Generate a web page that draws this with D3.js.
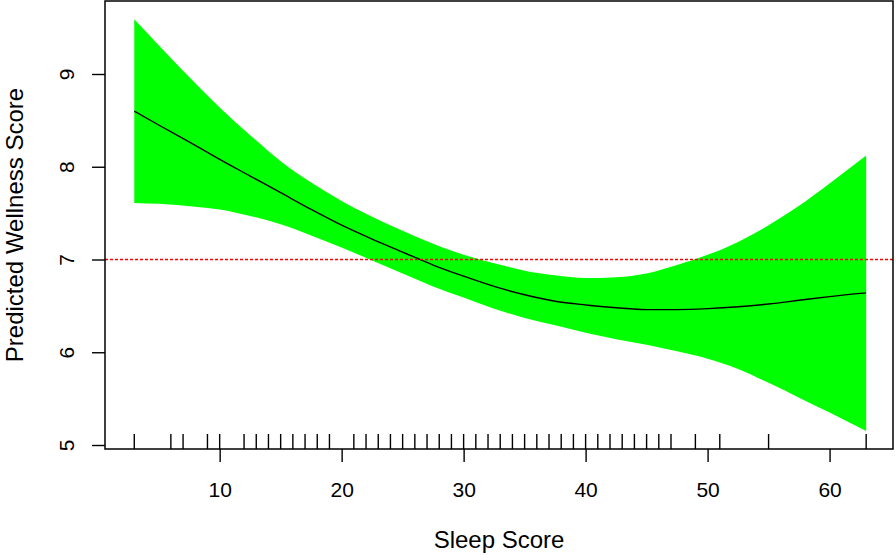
<!DOCTYPE html>
<html>
<head>
<meta charset="utf-8">
<script src="https://cdn.jsdelivr.net/npm/d3@7"></script>
<style>
  body { margin: 0; background: #fff; }
  svg { display: block; font-family: "Liberation Sans", Arial, sans-serif; }
</style>
</head>
<body>
<div id="chart"></div>
<script>
const sleep = [3, 5, 8, 10, 12.5, 15, 17.5, 20, 22.5, 25, 27.5, 30, 32.5, 35, 37.5, 40, 42.5, 45, 47.5, 50, 52.5, 55, 57.5, 60, 63];
const fit   = [8.60, 8.45, 8.23, 8.08, 7.90, 7.72, 7.54, 7.37, 7.22, 7.08, 6.94, 6.82, 6.71, 6.62, 6.55, 6.51, 6.48, 6.46, 6.46, 6.47, 6.49, 6.52, 6.56, 6.60, 6.64];
const upper = [9.59, 9.31, 8.90, 8.64, 8.34, 8.06, 7.83, 7.63, 7.46, 7.31, 7.17, 7.05, 6.96, 6.88, 6.83, 6.80, 6.81, 6.85, 6.94, 7.05, 7.19, 7.37, 7.58, 7.82, 8.12];
const lower = [7.61, 7.60, 7.57, 7.54, 7.47, 7.38, 7.26, 7.13, 6.99, 6.85, 6.71, 6.59, 6.47, 6.37, 6.29, 6.21, 6.14, 6.08, 6.01, 5.93, 5.82, 5.67, 5.51, 5.35, 5.15];
// observed sleep scores (rug)
const rug = [3, 6, 7, 9, 10, 12, 13, 14, 15, 16, 17, 18, 19, 21, 22, 23, 24, 25, 26, 27, 28, 29, 30, 31, 32,
             33, 34, 35, 36, 37, 38, 39, 40, 41, 42, 43, 44, 45, 46, 47, 49, 51, 55, 63];
const xTicks = [10, 20, 30, 40, 50, 60];
const yTicks = [5, 6, 7, 8, 9];
const refLine = 7;

const W = 896, H = 555;
const pl = 105, pr = 893, pt = 1, pb = 449;

const svg = d3.select("#chart").append("svg")
  .attr("width", W)
  .attr("height", H);

const x = d3.scaleLinear().domain([0.6, 65.2]).range([pl, pr]);
const y = d3.scaleLinear().domain([4.957, 9.787]).range([pb, pt]);

const rows = sleep.map((s, i) => ({ s, fit: fit[i], lo: lower[i], hi: upper[i] }));

// confidence band
svg.append("path")
  .datum(rows)
  .attr("fill", "#00ff00")
  .attr("d", d3.area()
    .x(d => x(d.s))
    .y0(d => y(d.lo))
    .y1(d => y(d.hi))
    .curve(d3.curveMonotoneX));

// fitted curve
svg.append("path")
  .datum(rows)
  .attr("fill", "none")
  .attr("stroke", "#000")
  .attr("stroke-width", 1.4)
  .attr("d", d3.line()
    .x(d => x(d.s))
    .y(d => y(d.fit))
    .curve(d3.curveMonotoneX));

// reference line
svg.append("line")
  .attr("x1", pl).attr("x2", pr)
  .attr("y1", y(refLine)).attr("y2", y(refLine))
  .attr("stroke", "#ff0000")
  .attr("stroke-width", 1.5)
  .attr("stroke-dasharray", "3,2");

// rug
svg.append("g")
  .selectAll("line")
  .data(rug)
  .join("line")
  .attr("x1", d => x(d)).attr("x2", d => x(d))
  .attr("y1", pb).attr("y2", pb - 15)
  .attr("stroke", "#000")
  .attr("stroke-width", 1.4);

// box
svg.append("rect")
  .attr("x", pl).attr("y", pt)
  .attr("width", pr - pl).attr("height", pb - pt)
  .attr("fill", "none")
  .attr("stroke", "#000")
  .attr("stroke-width", 1.5);

// x axis
const xAxis = svg.append("g")
  .attr("transform", `translate(0,${pb})`)
  .call(d3.axisBottom(x).tickValues(xTicks).tickSize(13).tickPadding(20).tickSizeOuter(0));
xAxis.select(".domain").remove();
xAxis.selectAll(".tick line").attr("stroke-width", 1.4);
xAxis.selectAll("text").attr("font-size", 21).attr("font-family", "Liberation Sans, Arial, sans-serif").attr("fill", "#000");

// y axis
const yAxis = svg.append("g")
  .attr("transform", `translate(${pl},0)`)
  .call(d3.axisLeft(y).tickValues(yTicks).tickFormat(d3.format("d")).tickSize(13).tickSizeOuter(0));
yAxis.select(".domain").remove();
yAxis.selectAll(".tick line").attr("stroke-width", 1.4);
yAxis.selectAll("text")
  .attr("font-size", 21)
  .attr("font-family", "Liberation Sans, Arial, sans-serif")
  .attr("fill", "#000")
  .attr("x", null).attr("dy", null)
  .attr("text-anchor", "middle")
  .attr("transform", "translate(-39,0) rotate(-90)")
  .attr("dominant-baseline", "central");

// axis titles
svg.append("text")
  .attr("x", (pl + pr) / 2)
  .attr("y", 548)
  .attr("text-anchor", "middle")
  .attr("font-size", 24)
  .text("Sleep Score");

svg.append("text")
  .attr("transform", `translate(23,${(pt + pb) / 2}) rotate(-90)`)
  .attr("text-anchor", "middle")
  .attr("font-size", 24)
  .text("Predicted Wellness Score");
</script>
</body>
</html>
